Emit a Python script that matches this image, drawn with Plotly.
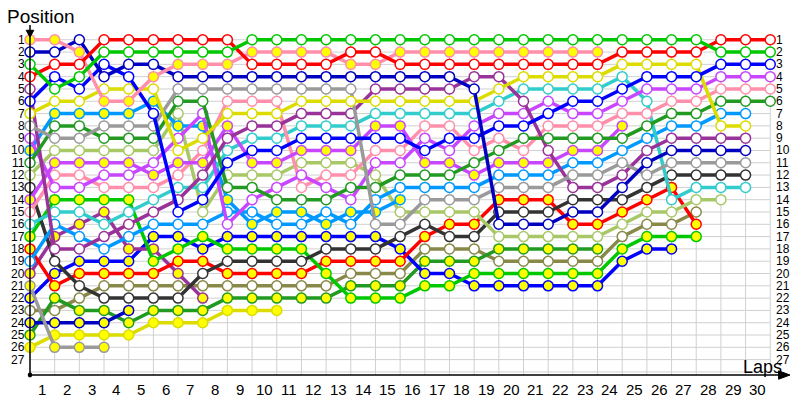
import plotly.graph_objects as go

# ---------------- data ----------------
LAP_LABELS = [str(i) for i in range(1, 31)]
POS_LABELS = [str(i) for i in range(1, 28)]

# position after each lap (index 0 = starting grid)
red_w      = [4,3,3,1,1,1,1,1,1,3,3,3,3,2,2,3,3,3,3,3,3,3,3,3,2,2,2,2,1,1,1]
green_w    = [3,5,4,2,2,2,2,2,2,1,1,1,1,1,1,1,1,1,1,1,1,1,1,1,1,1,1,1,2,2,2]
pink_y     = [1,1,2,6,6,4,3,3,3,2,2,2,2,3,3,2,2,2,2,2,2,2,2,2]
navy_w     = [2,2,1,4,3,3,4,4,4,4,4,4,4,4,4,4,4,4,5,16,16,16,15,15,13,11,10,10,10,10]
blue_w     = [6,4,5,3,4,7,15,14,11,10,10,9,9,9,9,9,10,9,9,8,8,7,6,6,5,4,4,4,3,3,3]
yellow_w   = [7,6,6,5,5,5,10,9,7,7,7,6,6,6,6,6,6,6,6,5,4,4,4,4,3,3,3,3,8,8]
gray_w     = [8,9,9,8,8,8,5,5,5,5,5,5,5,5,16,16,14,14,14,13,13,13,12,12,11,12,11,11,11,11]
violet_w   = [9,13,13,12,12,11,9,7,16,14,13,12,13,14,11,11,9,10,8,7,7,6,7,7,6,5,5,5,4,4,4]
ltblue_y   = [10,7,7,7,7,6,8,8,14,16,15,15,16,15,15,14]
dkgreen_w  = [11,8,8,9,9,9,6,6,13,13,14,14,14,13,13,12,12,12,11,10,9,9,9,9,9,8,7,7,6,6,6]
ltgreen_w  = [12,10,10,10,10,10,7,15,12,12,12,11,11,11,12,15,15,15,15,17,17,17,17,17,16,15,15,14,14]
black_w    = [13,19,21,22,22,22,22,20,19,19,19,19,18,18,18,17,16,17,17,15,15,15,14,14,14,13,12,12,12,12]
violet_y   = [14,11,11,11,11,12,11,11,8,11,11,10,10,10,8,8,11,11,12,11,11,11,10,10,8]
pink_w     = [15,12,12,13,13,13,12,10,6,6,6,13,12,12,10,10,8,8,10,9,10,8,8,8,7,7,6,6,5,5,5]
cyan_w     = [16,15,15,16,15,14,13,13,10,9,9,8,8,8,7,7,7,7,7,6,5,5,5,5,4,6,14,13,13,13]
green_y    = [17,14,14,14,14,19,18,17,18,18,18,18,20,22,22,22,21,21,20,20,20,20,20,20,18,17,17,17]
red_y      = [18,21,20,20,20,20,19,19,20,20,20,20,19,19,19,19,17,16,16,14,14,14,16,16,15,14,13,16]
ltblue_w   = [19,16,17,18,17,16,16,16,15,15,16,16,15,16,14,13,13,13,13,12,12,12,11,11,10,9,8,8,7,7]
purple_w   = [5,18,18,17,16,15,14,12,9,8,8,7,7,7,5,5,5,5,4,4,6,10,13,13,12,10,9,9,9,9]
purple_y   = [20,17,16,15,18,18,20,22]
gray_y     = [21,26,26,26]
blue_y     = [22,20,19,19,19,17,17,18,17,17,17,17,17,17,17,18,20,20,21,21,21,21,21,21,19,18,18]
olive_w    = [23,23,22,21,21,21,21,21,21,21,21,21,21,20,20,20,18,18,18,19,19,19,19,19,17,16,16,15]
navy_y     = [24,24,24,24,23]
dkgreen_y  = [25,22,23,23,24,23,23,23,22,22,22,22,22,21,21,21,19,19,19,18,18,18,18,18]
yellow_y   = [26,25,25,25,25,24,24,24,23,23,23]

COLORS = {
    "red": "#ff0000", "green": "#00c800", "pink": "#ff8fab", "navy": "#0000c0",
    "blue": "#0000ff", "yellow": "#dcdc00", "gray": "#9a9a9a", "violet": "#c846ff",
    "ltblue": "#0099ff", "dkgreen": "#229a22", "ltgreen": "#a8c868", "black": "#333333",
    "cyan": "#33cccc", "purple": "#993399", "olive": "#888848",
}

drivers = [
    ("olive", False, olive_w), ("yellow", True, yellow_y), ("dkgreen", True, dkgreen_y),
    ("navy", True, navy_y), ("blue", True, blue_y), ("gray", True, gray_y),
    ("purple", True, purple_y), ("red", True, red_y), ("green", True, green_y),
    ("black", False, black_w), ("ltgreen", False, ltgreen_w), ("ltblue", False, ltblue_w),
    ("ltblue", True, ltblue_y), ("cyan", False, cyan_w), ("pink", False, pink_w),
    ("violet", True, violet_y), ("violet", False, violet_w), ("purple", False, purple_w),
    ("dkgreen", False, dkgreen_w), ("gray", False, gray_w), ("yellow", False, yellow_w),
    ("blue", False, blue_w), ("navy", False, navy_w), ("pink", True, pink_y),
    ("red", False, red_w), ("green", False, green_w),
]

# ---------------- figure ----------------
fig = go.Figure()
n_laps = len(LAP_LABELS)
n_pos = len(POS_LABELS)

for team, yellow_fill, pos in drivers:
    c = COLORS[team]
    fig.add_trace(go.Scatter(
        x=list(range(len(pos))), y=pos, mode="lines+markers",
        line=dict(color=c, width=3.5),
        marker=dict(size=10, color="#ffff00" if yellow_fill else "#ffffff",
                    line=dict(color=c, width=1.5)),
        hoverinfo="skip", showlegend=False, cliponaxis=False,
    ))

GRID = "#d0d0d0"
Y_BOTTOM = 28.25
shapes = []
for p in range(1, n_pos + 2):
    shapes.append(dict(type="line", xref="x", yref="y", x0=0, x1=n_laps, y0=p, y1=p,
                       line=dict(color=GRID, width=1), layer="below"))
for l in range(1, n_laps + 1):
    shapes.append(dict(type="line", xref="x", yref="y", x0=l, x1=l, y0=1, y1=Y_BOTTOM,
                       line=dict(color=GRID, width=1), layer="below"))
# axes
shapes.append(dict(type="line", xref="paper", yref="paper", x0=0, x1=0, y0=0, y1=1,
                   line=dict(color="black", width=1.5)))
shapes.append(dict(type="line", xref="paper", yref="paper", x0=0, x1=0.995, y0=0, y1=0,
                   line=dict(color="black", width=1.5)))
shapes.append(dict(type="path", xref="paper", yref="paper",
                   path="M -0.005 0.985 L 0.005 0.985 L 0 0.965 Z",
                   fillcolor="black", line=dict(color="black", width=1)))
shapes.append(dict(type="path", xref="paper", yref="paper",
                   path="M 0.985 -0.012 L 1.0 0 L 0.985 0.012 Z",
                   fillcolor="black", line=dict(color="black", width=1)))
shapes.append(dict(type="circle", xref="paper", yref="paper",
                   x0=-0.003, x1=0.003, y0=-0.007, y1=0.007, fillcolor="black",
                   line=dict(color="black", width=0)))

FONT = "Liberation Sans, Arial, sans-serif"
ann = []
for i, lab in enumerate(POS_LABELS):
    p = i + 1
    ann.append(dict(x=0, y=p, xref="x", yref="y", text=lab, showarrow=False,
                    xanchor="right", yanchor="middle", xshift=-3,
                    font=dict(family=FONT, size=12, color="black")))
    ann.append(dict(x=n_laps, y=p, xref="x", yref="y", text=lab, showarrow=False,
                    xanchor="left", yanchor="middle", xshift=4,
                    font=dict(family=FONT, size=12, color="black")))
for i, lab in enumerate(LAP_LABELS):
    ann.append(dict(x=i + 0.5, y=0, xref="x", yref="paper", text=lab, showarrow=False,
                    xanchor="center", yanchor="top", yshift=-4,
                    font=dict(family=FONT, size=15, color="black")))
ann.append(dict(x=-0.033, y=1.0, xref="paper", yref="paper", text="Position",
                showarrow=False, xanchor="left", yanchor="bottom", yshift=-4,
                font=dict(family=FONT, size=19, color="black")))
ann.append(dict(x=1.0, y=0, xref="paper", yref="paper", text="Laps",
                showarrow=False, xanchor="right", yanchor="bottom", yshift=-4, xshift=-6,
                font=dict(family=FONT, size=18, color="black")))

fig.update_layout(
    width=800, height=400,
    margin=dict(l=30, r=10, t=25, b=25),
    paper_bgcolor="white", plot_bgcolor="white",
    xaxis=dict(range=[0, 30.8], showgrid=False, zeroline=False, showticklabels=False,
               ticks="", fixedrange=True),
    yaxis=dict(range=[Y_BOTTOM, -0.2], showgrid=False, zeroline=False,
               showticklabels=False, ticks="", fixedrange=True),
    shapes=shapes, annotations=ann, showlegend=False,
)

fig.write_html("out.html", config={"displayModeBar": False},
               post_script="document.body.style.margin='0';document.body.style.overflow='hidden';")
